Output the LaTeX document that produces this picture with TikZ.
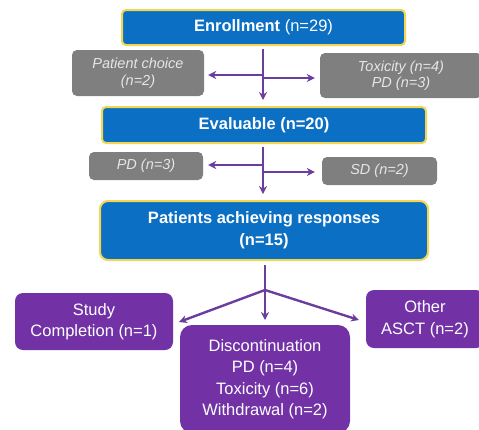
\documentclass[tikz,border=0pt]{standalone}
\usepackage{fontspec}
\setmainfont{Liberation Sans}
\usetikzlibrary{arrows.meta}
\definecolor{boxblue}{HTML}{0B6FC4}
\definecolor{boxyellow}{HTML}{F2D550}
\definecolor{boxgray}{HTML}{7F7F7F}
\definecolor{graytext}{HTML}{E6E6E6}
\definecolor{boxpurple}{HTML}{7232A6}
\definecolor{arrpurple}{HTML}{6B3D9C}
\tikzset{
  bluebox/.style={draw=boxyellow, line width=2pt, fill=boxblue, rounded corners=4pt,
    text=white, align=center, inner sep=0pt,
    font=\fontsize{16.5}{22}\selectfont\bfseries},
  graybox/.style={fill=boxgray, rounded corners=5pt, text=graytext, align=center, inner sep=0pt,
    font=\fontsize{14.5}{16.5}\selectfont\itshape},
  purplebox/.style={fill=boxpurple, rounded corners=8pt, text=white, align=center, inner sep=0pt,
    font=\fontsize{16.5}{21.5}\selectfont},
  arr/.style={draw=arrpurple, line width=2.4pt, -{Stealth[length=8pt,width=8pt]}},
  ln/.style={draw=arrpurple, line width=2.4pt}
}
\begin{document}
\begin{tikzpicture}[x=1pt,y=-1pt]
\useasboundingbox (0,0) rectangle (479,429);
% boxes
\node[bluebox, minimum width=283pt, minimum height=35pt] (enr) at (263.5,27.5)
  {Enrollment \mdseries(n=29)};
\node[graybox, minimum width=132pt, minimum height=46pt] (pc) at (138,73)
  {Patient choice\\(n=2)};
\node[graybox, minimum width=162pt, minimum height=45pt] (tox) at (401,75.5)
  {Toxicity (n=4)\\PD (n=3)};
\node[bluebox, minimum width=324pt, minimum height=36pt] (eval) at (264,125)
  {Evaluable (n=20)};
\node[graybox, minimum width=114pt, minimum height=28pt] (pd) at (146,166)
  {PD (n=3)};
\node[graybox, minimum width=115pt, minimum height=28pt] (sd) at (379.5,171)
  {SD (n=2)};
\node[bluebox, rounded corners=8pt, minimum width=328pt, minimum height=59pt] (resp) at (264,230.5)
  {Patients achieving responses\\(n=15)};
\node[purplebox, minimum width=158pt, minimum height=57pt] (study) at (94,321.5)
  {Study\\Completion (n=1)};
\node[purplebox, rounded corners=12pt, minimum width=170pt, minimum height=108pt] (disc) at (265,379)
  {Discontinuation\\PD (n=4)\\Toxicity (n=6)\\Withdrawal (n=2)};
\node[purplebox, minimum width=118pt, minimum height=58pt] (other) at (425,319)
  {Other\\ASCT (n=2)};
% connector points
\coordinate (t1) at (263,49);
\coordinate (t1l) at (263,75);
\coordinate (t1r) at (263,78);
\coordinate (b1) at (263,100);
\coordinate (t2) at (263,147);
\coordinate (t2l) at (263,165);
\coordinate (t2r) at (263,172);
\coordinate (b2) at (263,194);
\coordinate (t3) at (265,265);
\coordinate (br3) at (265,290);
\coordinate (b3) at (265,320);
\coordinate (l3) at (179,322);
\coordinate (r3) at (359,320);
% first split
\draw[arr] (t1) -- (b1);
\draw[arr] (t1l) -- ([xshift=4pt]pc.east |- t1l);
\draw[arr] (t1r) -- ([xshift=-5pt]tox.west |- t1r);
% second split
\draw[arr] (t2) -- (b2);
\draw[arr] (t2l) -- ([xshift=5pt]pd.east |- t2l);
\draw[arr] (t2r) -- ([xshift=-7pt]sd.west |- t2r);
% third split
\draw[arr] (t3) -- (b3);
\draw[arr] (br3) -- (l3);
\draw[arr] (br3) -- (r3);
\end{tikzpicture}
\end{document}
